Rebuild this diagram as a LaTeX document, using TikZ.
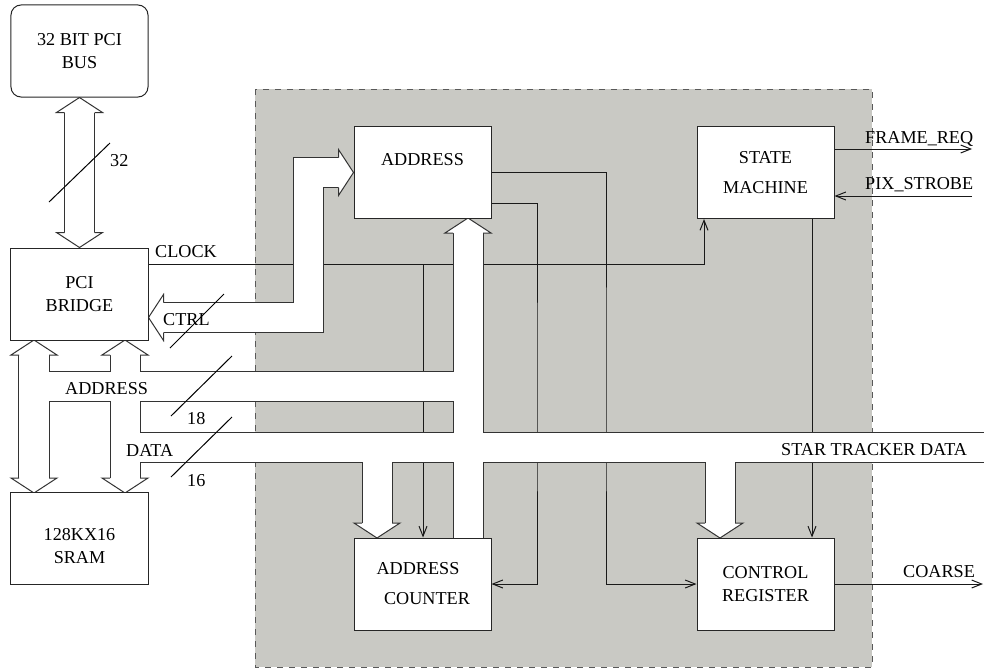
\documentclass[tikz,border=0pt]{standalone}
\usepackage{fontspec}
\setmainfont{Liberation Serif}
\usetikzlibrary{arrows.meta,backgrounds,calc}
\definecolor{panelgray}{RGB}{201,201,196}
\tikzset{
    blk/.style={
        draw=black!85,
        fill=white,
        line width=0.03cm,
        minimum width=4.11cm,
        minimum height=2.76cm,
        inner sep=0pt,
        align=center
    },
    lbl/.style={inner sep=0pt, anchor=base west},
    wire/.style={draw=black!90, line width=0.03cm, -{Straight Barb[length=0.3cm,width=0.24cm]}},
    bus head/.style={fill=white, draw=black!80, line width=0.03cm, line join=miter},
    slash/.style={draw=black, line width=0.03cm}
}
\newcommand{\bushead}[2]{\filldraw[bus head, shift={#1}, rotate=#2] (-15,15) -- (-23,15) -- (0,0) -- (23,15) -- (15,15);}

\begin{document}
\begin{tikzpicture}[x=0.03cm, y=-0.03cm, font=\fontsize{15.5}{20}\selectfont]
\useasboundingbox (0,0) rectangle (984,668);
% Blocks
\node[blk, rounded corners=0.3cm] (pcibus) at (79.5,51) {32 BIT PCI\\BUS};
\node[blk] (bridge) at (79.5,294) {PCI\\BRIDGE};
\node[blk] (sram) at (79.5,538.5) {\rule{0pt}{0.8cm}128KX16\\SRAM};
\node[blk] (addr) at (422.5,172.5) {ADDRESS\\[0.1cm]\mbox{}};
\node[blk] (sm) at (765.5,172.5) {STATE\\[0.2cm]MACHINE};
\node[blk] (cnt) at (422.5,584) {ADDRESS\hspace*{0.27cm}\\[0.2cm]\hspace*{0.27cm}COUNTER};
\node[blk] (ctl) at (765.5,584) {CONTROL\\REGISTER};

% Labels
\node[lbl] (l32) at (110,166) {32};
\node[lbl] (lclk) at (155,257) {CLOCK};
\node[lbl] (lctrl) at (163,325) {CTRL};
\node[lbl] (laddr) at (65,394) {ADDRESS};
\node[lbl] (l18) at (187,424) {18};
\node[lbl] (ldata) at (126,456) {DATA};
\node[lbl] (l16) at (187,486) {16};
\node[lbl] (lfrq) at (865,143) {FRAME\_REQ};
\node[lbl] (lpix) at (865,189) {PIX\_STROBE};
\node[lbl] (lstar) at (781,455) {STAR TRACKER DATA};
\node[lbl] (lcoarse) at (903,577) {COARSE};

\begin{scope}[on background layer]
% Board area
\draw[fill=panelgray, draw=black!65, line width=0.03cm, dash pattern=on 0.19cm off 0.17cm] (255,89) rectangle (872,667);

% Control lines
\coordinate (clk) at (bridge.east |- 0,264);
\coordinate (clkcnt) at (423,264);
\coordinate (frq) at (972,149);
\coordinate (pix) at (972,196);
\coordinate (coarse) at (983,584);
\draw[wire] (clk) -| (sm.south -| 704,0);
\draw[wire] (clkcnt) -- (clkcnt |- cnt.north);
\draw[wire] (sm.east |- frq) -- (frq);
\draw[wire] (pix) -- (sm.east |- pix);
\draw[wire] (sm.south -| 812,0) -- (ctl.north -| 812,0);
\draw[wire] (addr.east |- 0,203) -| (537,400) |- (cnt.east);
\draw[wire] (addr.east) -| (606,400) |- (ctl.west);
\draw[wire] (ctl.east) -- (coarse);

% Buses: outline first, then white inside
\foreach \w/\c in {0.93cm/black!80, 0.87cm/white}{
    \draw[line width=\w, draw=\c, line join=miter]
        ([yshift=-0.45cm]pcibus.south) -- ([yshift=0.45cm]bridge.north)
        (163,317.5) -- (308,317.5) |- ([xshift=-0.45cm]addr.west)
        (34,355) -- (34,478)
        (125,355) -- (125,478)
        (34,386.5) -- (468,386.5)
        (468,233) -- (468,538)
        (125,447) -- (984,447)
        (377,447) -- (377,523)
        (720,447) -- (720,523);
}
\bushead{(pcibus.south)}{0}
\bushead{(bridge.north)}{180}
\bushead{(bridge.east |- 0,317.5)}{90}
\bushead{(addr.west)}{-90}
\bushead{(34,340)}{0}
\bushead{(34,493)}{180}
\bushead{(125,340)}{0}
\bushead{(125,493)}{180}
\bushead{(468,218)}{0}
\bushead{(377,538)}{180}
\bushead{(720,538)}{180}
\end{scope}

% Bus width marks
\draw[slash] (49,202) -- (110,143);
\draw[slash] (170,348) -- (224,294);
\draw[slash] (171,416) -- (232,356);
\draw[slash] (171,477) -- (232,417);
\end{tikzpicture}
\end{document}
